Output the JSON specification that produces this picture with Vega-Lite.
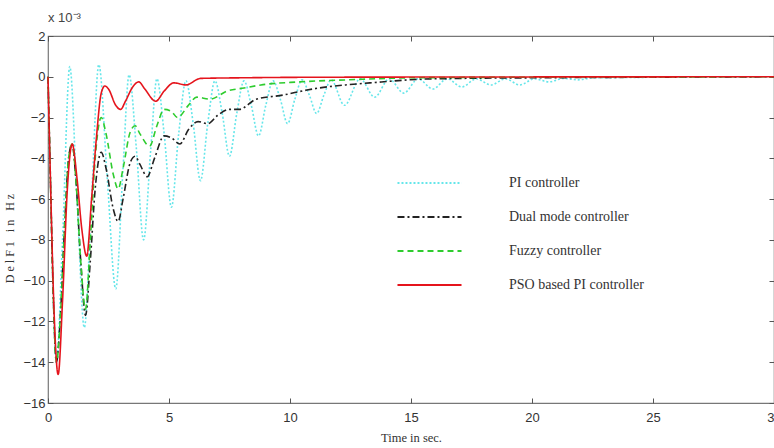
{
  "$schema": "https://vega.github.io/schema/vega-lite/v6.json",
  "width": 726,
  "height": 367,
  "autosize": {"type": "none"},
  "padding": {"left": 48, "top": 36, "right": 0, "bottom": 45},
  "background": "white",
  "title": {"text": "x 10⁻³", "anchor": "start", "frame": "group", "offset": 5, "fontSize": 13, "font": "Liberation Sans Narrow, Liberation Sans", "fontWeight": "normal", "color": "#444"},
  "config": {
    "view": {"stroke": "#777", "strokeWidth": 1.2},
    "axis": {"grid": false, "domain": false, "tickColor": "#555", "labelColor": "#333", "labelFont": "Liberation Sans Narrow, Liberation Sans", "labelFontSize": 13, "titleFont": "Liberation Serif", "titleFontWeight": "normal", "titleColor": "#333", "titleFontSize": 12}
  },
  "data": {"values": [
    {"t":0,"v":0,"s":"PI controller"},
    {"t":0.12,"v":-6,"s":"PI controller"},
    {"t":0.35,"v":-14,"s":"PI controller"},
    {"t":0.6,"v":-8,"s":"PI controller"},
    {"t":0.9,"v":0.5,"s":"PI controller"},
    {"t":1.2,"v":-6,"s":"PI controller"},
    {"t":1.5,"v":-12.3,"s":"PI controller"},
    {"t":1.8,"v":-6,"s":"PI controller"},
    {"t":2.1,"v":0.6,"s":"PI controller"},
    {"t":2.45,"v":-5,"s":"PI controller"},
    {"t":2.8,"v":-10.4,"s":"PI controller"},
    {"t":3.1,"v":-4.5,"s":"PI controller"},
    {"t":3.35,"v":0.1,"s":"PI controller"},
    {"t":3.65,"v":-3.5,"s":"PI controller"},
    {"t":3.95,"v":-8.0,"s":"PI controller"},
    {"t":4.25,"v":-3.5,"s":"PI controller"},
    {"t":4.5,"v":-0.1,"s":"PI controller"},
    {"t":4.8,"v":-2.8,"s":"PI controller"},
    {"t":5.1,"v":-6.4,"s":"PI controller"},
    {"t":5.4,"v":-2.8,"s":"PI controller"},
    {"t":5.7,"v":-0.2,"s":"PI controller"},
    {"t":6.0,"v":-2.3,"s":"PI controller"},
    {"t":6.3,"v":-5.1,"s":"PI controller"},
    {"t":6.6,"v":-2.3,"s":"PI controller"},
    {"t":6.9,"v":-0.2,"s":"PI controller"},
    {"t":7.2,"v":-1.8,"s":"PI controller"},
    {"t":7.5,"v":-3.9,"s":"PI controller"},
    {"t":7.8,"v":-1.8,"s":"PI controller"},
    {"t":8.1,"v":-0.2,"s":"PI controller"},
    {"t":8.4,"v":-1.4,"s":"PI controller"},
    {"t":8.7,"v":-2.9,"s":"PI controller"},
    {"t":9.0,"v":-1.4,"s":"PI controller"},
    {"t":9.3,"v":-0.2,"s":"PI controller"},
    {"t":9.6,"v":-1.1,"s":"PI controller"},
    {"t":9.9,"v":-2.3,"s":"PI controller"},
    {"t":10.2,"v":-1.1,"s":"PI controller"},
    {"t":10.5,"v":-0.15,"s":"PI controller"},
    {"t":10.8,"v":-0.9,"s":"PI controller"},
    {"t":11.1,"v":-1.8,"s":"PI controller"},
    {"t":11.4,"v":-0.9,"s":"PI controller"},
    {"t":11.7,"v":-0.15,"s":"PI controller"},
    {"t":12.25,"v":-1.4,"s":"PI controller"},
    {"t":12.9,"v":-0.1,"s":"PI controller"},
    {"t":13.5,"v":-1.0,"s":"PI controller"},
    {"t":14.1,"v":-0.1,"s":"PI controller"},
    {"t":14.7,"v":-0.8,"s":"PI controller"},
    {"t":15.3,"v":-0.1,"s":"PI controller"},
    {"t":15.9,"v":-0.6,"s":"PI controller"},
    {"t":16.5,"v":-0.1,"s":"PI controller"},
    {"t":17.1,"v":-0.5,"s":"PI controller"},
    {"t":17.7,"v":-0.1,"s":"PI controller"},
    {"t":18.3,"v":-0.4,"s":"PI controller"},
    {"t":18.9,"v":-0.1,"s":"PI controller"},
    {"t":19.5,"v":-0.4,"s":"PI controller"},
    {"t":20.1,"v":-0.1,"s":"PI controller"},
    {"t":20.7,"v":-0.25,"s":"PI controller"},
    {"t":21.3,"v":-0.08,"s":"PI controller"},
    {"t":21.9,"v":-0.15,"s":"PI controller"},
    {"t":22.5,"v":-0.05,"s":"PI controller"},
    {"t":30,"v":0,"s":"PI controller"},

    {"t":0,"v":0,"s":"Dual mode controller"},
    {"t":0.1,"v":-5,"s":"Dual mode controller"},
    {"t":0.2,"v":-10,"s":"Dual mode controller"},
    {"t":0.35,"v":-14,"s":"Dual mode controller"},
    {"t":0.5,"v":-12,"s":"Dual mode controller"},
    {"t":0.7,"v":-7,"s":"Dual mode controller"},
    {"t":0.85,"v":-4,"s":"Dual mode controller"},
    {"t":1.0,"v":-3.3,"s":"Dual mode controller"},
    {"t":1.15,"v":-5,"s":"Dual mode controller"},
    {"t":1.35,"v":-9,"s":"Dual mode controller"},
    {"t":1.55,"v":-11.7,"s":"Dual mode controller"},
    {"t":1.75,"v":-9,"s":"Dual mode controller"},
    {"t":1.95,"v":-5.5,"s":"Dual mode controller"},
    {"t":2.2,"v":-3.7,"s":"Dual mode controller"},
    {"t":2.4,"v":-4.5,"s":"Dual mode controller"},
    {"t":2.7,"v":-6.5,"s":"Dual mode controller"},
    {"t":2.9,"v":-7.1,"s":"Dual mode controller"},
    {"t":3.1,"v":-6,"s":"Dual mode controller"},
    {"t":3.4,"v":-4.2,"s":"Dual mode controller"},
    {"t":3.6,"v":-3.9,"s":"Dual mode controller"},
    {"t":3.8,"v":-4.3,"s":"Dual mode controller"},
    {"t":4.1,"v":-4.9,"s":"Dual mode controller"},
    {"t":4.4,"v":-4.0,"s":"Dual mode controller"},
    {"t":4.8,"v":-2.9,"s":"Dual mode controller"},
    {"t":5.1,"v":-3.0,"s":"Dual mode controller"},
    {"t":5.45,"v":-3.3,"s":"Dual mode controller"},
    {"t":5.8,"v":-2.6,"s":"Dual mode controller"},
    {"t":6.2,"v":-2.2,"s":"Dual mode controller"},
    {"t":6.6,"v":-2.3,"s":"Dual mode controller"},
    {"t":7.0,"v":-1.9,"s":"Dual mode controller"},
    {"t":7.5,"v":-1.6,"s":"Dual mode controller"},
    {"t":7.9,"v":-1.6,"s":"Dual mode controller"},
    {"t":8.6,"v":-1.1,"s":"Dual mode controller"},
    {"t":9.7,"v":-0.9,"s":"Dual mode controller"},
    {"t":10.7,"v":-0.65,"s":"Dual mode controller"},
    {"t":11.2,"v":-0.55,"s":"Dual mode controller"},
    {"t":12.3,"v":-0.4,"s":"Dual mode controller"},
    {"t":13.3,"v":-0.3,"s":"Dual mode controller"},
    {"t":15.4,"v":-0.12,"s":"Dual mode controller"},
    {"t":17,"v":-0.08,"s":"Dual mode controller"},
    {"t":20,"v":-0.05,"s":"Dual mode controller"},
    {"t":25,"v":-0.02,"s":"Dual mode controller"},
    {"t":30,"v":0,"s":"Dual mode controller"},

    {"t":0,"v":0,"s":"Fuzzy controller"},
    {"t":0.1,"v":-5,"s":"Fuzzy controller"},
    {"t":0.2,"v":-10,"s":"Fuzzy controller"},
    {"t":0.35,"v":-14,"s":"Fuzzy controller"},
    {"t":0.5,"v":-12,"s":"Fuzzy controller"},
    {"t":0.7,"v":-7,"s":"Fuzzy controller"},
    {"t":0.85,"v":-4,"s":"Fuzzy controller"},
    {"t":1.0,"v":-3.3,"s":"Fuzzy controller"},
    {"t":1.15,"v":-5,"s":"Fuzzy controller"},
    {"t":1.35,"v":-9,"s":"Fuzzy controller"},
    {"t":1.55,"v":-11.4,"s":"Fuzzy controller"},
    {"t":1.75,"v":-8,"s":"Fuzzy controller"},
    {"t":1.95,"v":-4,"s":"Fuzzy controller"},
    {"t":2.2,"v":-2.0,"s":"Fuzzy controller"},
    {"t":2.4,"v":-2.8,"s":"Fuzzy controller"},
    {"t":2.7,"v":-4.8,"s":"Fuzzy controller"},
    {"t":2.9,"v":-5.5,"s":"Fuzzy controller"},
    {"t":3.1,"v":-4.5,"s":"Fuzzy controller"},
    {"t":3.4,"v":-2.7,"s":"Fuzzy controller"},
    {"t":3.6,"v":-2.4,"s":"Fuzzy controller"},
    {"t":3.8,"v":-2.8,"s":"Fuzzy controller"},
    {"t":4.2,"v":-3.4,"s":"Fuzzy controller"},
    {"t":4.5,"v":-2.4,"s":"Fuzzy controller"},
    {"t":4.8,"v":-1.6,"s":"Fuzzy controller"},
    {"t":5.1,"v":-1.7,"s":"Fuzzy controller"},
    {"t":5.35,"v":-2.0,"s":"Fuzzy controller"},
    {"t":5.8,"v":-1.4,"s":"Fuzzy controller"},
    {"t":6.15,"v":-1.0,"s":"Fuzzy controller"},
    {"t":6.7,"v":-1.1,"s":"Fuzzy controller"},
    {"t":7.4,"v":-0.7,"s":"Fuzzy controller"},
    {"t":8.1,"v":-0.55,"s":"Fuzzy controller"},
    {"t":8.8,"v":-0.4,"s":"Fuzzy controller"},
    {"t":10.4,"v":-0.25,"s":"Fuzzy controller"},
    {"t":12.4,"v":-0.15,"s":"Fuzzy controller"},
    {"t":15,"v":-0.05,"s":"Fuzzy controller"},
    {"t":20,"v":-0.02,"s":"Fuzzy controller"},
    {"t":30,"v":0,"s":"Fuzzy controller"},

    {"t":0,"v":0,"s":"PSO based PI controller"},
    {"t":0.1,"v":-5,"s":"PSO based PI controller"},
    {"t":0.25,"v":-11.5,"s":"PSO based PI controller"},
    {"t":0.42,"v":-14.6,"s":"PSO based PI controller"},
    {"t":0.6,"v":-11,"s":"PSO based PI controller"},
    {"t":0.8,"v":-5.5,"s":"PSO based PI controller"},
    {"t":1.0,"v":-3.3,"s":"PSO based PI controller"},
    {"t":1.2,"v":-5,"s":"PSO based PI controller"},
    {"t":1.4,"v":-7.5,"s":"PSO based PI controller"},
    {"t":1.6,"v":-8.8,"s":"PSO based PI controller"},
    {"t":1.8,"v":-6,"s":"PSO based PI controller"},
    {"t":2.0,"v":-3,"s":"PSO based PI controller"},
    {"t":2.2,"v":-0.8,"s":"PSO based PI controller"},
    {"t":2.35,"v":-0.45,"s":"PSO based PI controller"},
    {"t":2.5,"v":-0.6,"s":"PSO based PI controller"},
    {"t":2.8,"v":-1.4,"s":"PSO based PI controller"},
    {"t":3.0,"v":-1.6,"s":"PSO based PI controller"},
    {"t":3.2,"v":-1.2,"s":"PSO based PI controller"},
    {"t":3.5,"v":-0.5,"s":"PSO based PI controller"},
    {"t":3.75,"v":-0.25,"s":"PSO based PI controller"},
    {"t":4.0,"v":-0.6,"s":"PSO based PI controller"},
    {"t":4.45,"v":-1.2,"s":"PSO based PI controller"},
    {"t":4.8,"v":-0.7,"s":"PSO based PI controller"},
    {"t":5.2,"v":-0.3,"s":"PSO based PI controller"},
    {"t":5.7,"v":-0.4,"s":"PSO based PI controller"},
    {"t":6.3,"v":-0.08,"s":"PSO based PI controller"},
    {"t":8,"v":-0.05,"s":"PSO based PI controller"},
    {"t":12,"v":-0.02,"s":"PSO based PI controller"},
    {"t":30,"v":0,"s":"PSO based PI controller"}
  ]},
  "layer": [
    {
      "mark": {"type": "line", "interpolate": "monotone", "strokeWidth": 1.6},
      "encoding": {
        "x": {"field": "t", "type": "quantitative", "scale": {"domain": [0, 30], "nice": false}, "axis": {"values": [0,5,10,15,20,25,30], "tickSize": -5, "labelPadding": 13, "labelAngle": 0, "title": "Time in sec.", "titlePadding": 7, "titleFontSize": 12.5, "labelFlush": false}},
        "y": {"field": "v", "type": "quantitative", "scale": {"domain": [-16, 2], "nice": false}, "axis": {"values": [-16,-14,-12,-10,-8,-6,-4,-2,0,2], "tickSize": -5, "labelPadding": 8, "title": "D\u00a0e\u00a0l\u00a0F\u00a01\u00a0\u00a0\u00a0i\u00a0n\u00a0\u00a0\u00a0H\u00a0z", "titlePadding": 6, "titleY": 202, "labelFlush": false}},
        "color": {"field": "s", "type": "nominal", "scale": {"domain": ["PI controller", "Dual mode controller", "Fuzzy controller", "PSO based PI controller"], "range": ["#66e6ea", "#222222", "#2ecc2e", "#e5141c"]}, "legend": {"title": null, "orient": "none", "legendX": 348, "legendY": 130, "symbolType": "stroke", "symbolSize": 4100, "symbolStrokeWidth": 2, "labelFont": "Liberation Serif", "labelFontSize": 14, "labelColor": "#333", "labelOffset": 46, "rowPadding": 0, "clipHeight": 34}},
        "strokeDash": {"field": "s", "type": "nominal", "scale": {"domain": ["PI controller", "Dual mode controller", "Fuzzy controller", "PSO based PI controller"], "range": [[2, 2], [7, 3, 2, 3], [6, 4], [1, 0]]}, "legend": {"title": null}},
        "order": {"field": "t", "type": "quantitative"}
      }
    },
    {
      "mark": {"type": "line", "opacity": 0},
      "encoding": {
        "x": {"field": "t", "type": "quantitative", "axis": {"orient": "top", "values": [0,5,10,15,20,25,30], "tickSize": -5, "labels": false, "title": null}},
        "y": {"field": "v", "type": "quantitative", "axis": {"orient": "right", "values": [-16,-14,-12,-10,-8,-6,-4,-2,0,2], "tickSize": -5, "labels": false, "title": null}},
        "detail": {"field": "s"}
      }
    }
  ],
  "resolve": {"axis": {"x": "independent", "y": "independent"}}
}
